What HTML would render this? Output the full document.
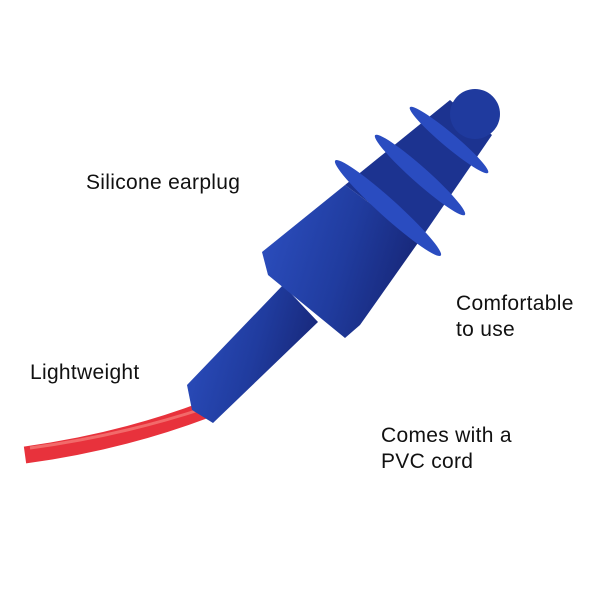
<!DOCTYPE html>
<html><head><style>
body{margin:0;background:#fff;width:601px;height:601px;overflow:hidden;position:relative;font-family:"Liberation Sans",sans-serif;}
.t{position:absolute;font-size:21px;letter-spacing:0.3px;color:#111;line-height:26px;}
</style></head><body>
<svg width="601" height="601" style="position:absolute;left:0;top:0">
<defs>
<linearGradient id="g" x1="0" y1="0" x2="1" y2="0.3">
<stop offset="0" stop-color="#2d50c2"/><stop offset="0.6" stop-color="#203c9f"/><stop offset="1" stop-color="#18297c"/>
</linearGradient>
</defs>
<path d="M205,410 Q120,442 25,455" stroke="#e8323c" stroke-width="17" fill="none"/>
<path d="M205,408 Q120,436 30,448" stroke="#f26a6a" stroke-width="3" fill="none"/>
<polygon points="283,285 187,385 192,410 213,423 318,322" fill="url(#g)"/>
<polygon points="345,185 262,252 268,275 345,338 360,325 420,240" fill="url(#g)"/>
<polygon points="345,185 420,240 492,135 450,100" fill="#1c3390"/>
<circle cx="475" cy="114" r="25" fill="#1f3a9e"/>
<ellipse cx="449" cy="140" rx="51" ry="7" transform="rotate(40 449 140)" fill="#2a4cc0"/>
<ellipse cx="420" cy="175" rx="60" ry="8" transform="rotate(41.6 420 175)" fill="#2a4cc0"/>
<ellipse cx="388" cy="208" rx="71" ry="9" transform="rotate(42 388 208)" fill="#2a4cc0"/>
</svg>
<div class="t" style="left:86px;top:170px">Silicone earplug</div>
<div class="t" style="left:456px;top:291px">Comfortable<br>to use</div>
<div class="t" style="left:30px;top:360px">Lightweight</div>
<div class="t" style="left:381px;top:423px">Comes with a<br>PVC cord</div>
</body></html>
